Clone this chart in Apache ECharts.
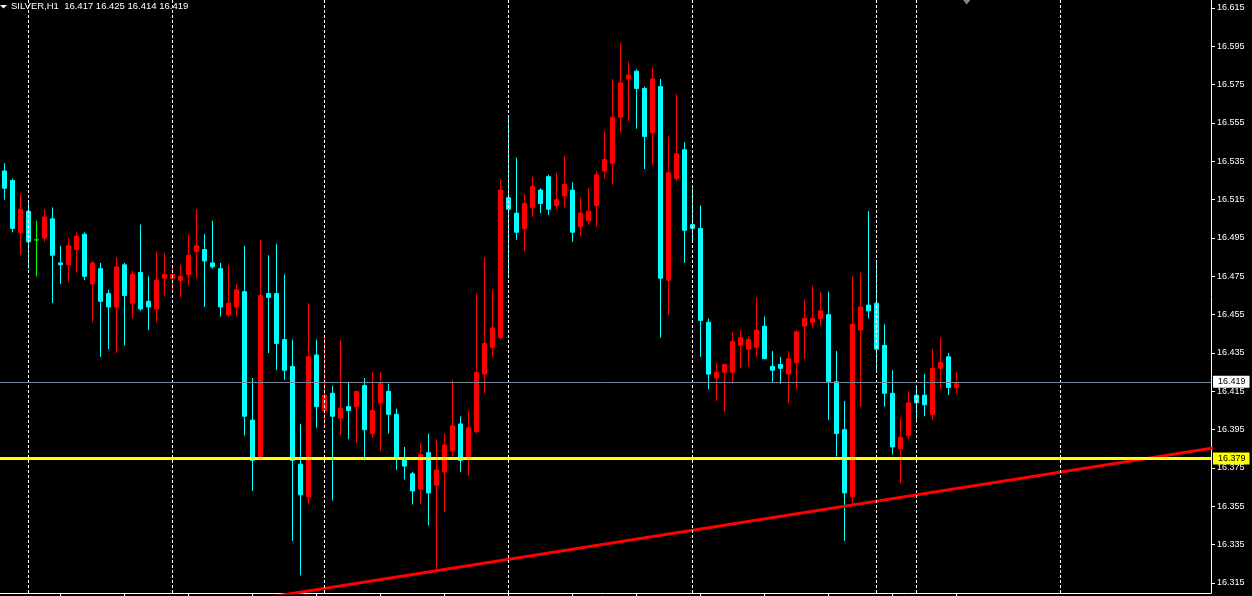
<!DOCTYPE html>
<html>
<head>
<meta charset="utf-8">
<script src="https://cdn.jsdelivr.net/npm/echarts@6/dist/echarts.min.js"></script>
<style>
html,body{margin:0;padding:0;background:#000;}
#chart{width:1252px;height:596px;}
</style>
</head>
<body>
<div id="chart"></div>
<script>
// ---- data ----
const symbol = 'SILVER';
const period = 'H1';
const opens  = [16.530,16.525,16.498,16.509,16.494,16.495,16.505,16.482,16.481,16.489,16.497,16.471,16.479,16.466,16.459,16.481,16.461,16.477,16.462,16.458,
                16.474,16.474,16.473,16.476,16.488,16.489,16.482,16.479,16.455,16.459,16.467,16.400,16.381,16.466,16.466,16.442,16.428,16.377,16.360,16.434,
                16.405,16.414,16.401,16.407,16.407,16.418,16.393,16.409,16.415,16.403,16.380,16.372,16.364,16.383,16.366,16.373,16.384,16.398,16.380,16.394,
                16.424,16.438,16.443,16.516,16.508,16.500,16.511,16.520,16.527,16.512,16.517,16.520,16.501,16.504,16.512,16.530,16.534,16.558,16.578,16.582,
                16.573,16.550,16.574,16.473,16.526,16.541,16.502,16.500,16.451,16.422,16.425,16.425,16.439,16.437,16.438,16.449,16.428,16.429,16.424,16.430,
                16.449,16.451,16.453,16.455,16.420,16.395,16.360,16.447,16.460,16.461,16.439,16.414,16.385,16.392,16.413,16.413,16.403,16.427,16.433,16.417];
const highs  = [16.534,16.526,16.518,16.514,16.504,16.510,16.511,16.491,16.495,16.498,16.498,16.483,16.482,16.468,16.485,16.482,16.478,16.502,16.475,16.488,
                16.487,16.480,16.481,16.497,16.510,16.497,16.504,16.482,16.481,16.471,16.491,16.422,16.494,16.486,16.492,16.476,16.442,16.398,16.461,16.442,
                16.443,16.418,16.442,16.420,16.415,16.422,16.425,16.425,16.419,16.406,16.386,16.373,16.388,16.393,16.390,16.393,16.421,16.402,16.405,16.466,
                16.485,16.468,16.526,16.558,16.537,16.518,16.527,16.521,16.528,16.529,16.538,16.524,16.516,16.521,16.530,16.551,16.578,16.597,16.587,16.583,
                16.574,16.584,16.578,16.548,16.570,16.545,16.521,16.512,16.453,16.430,16.429,16.446,16.447,16.444,16.464,16.454,16.436,16.433,16.436,16.447,
                16.463,16.470,16.467,16.467,16.436,16.410,16.475,16.477,16.509,16.482,16.450,16.426,16.401,16.415,16.417,16.424,16.437,16.443,16.435,16.425];
const lows   = [16.515,16.498,16.486,16.479,16.475,16.493,16.461,16.471,16.472,16.477,16.473,16.451,16.433,16.437,16.435,16.439,16.453,16.457,16.447,16.451,
                16.465,16.468,16.464,16.470,16.474,16.459,16.479,16.454,16.454,16.454,16.392,16.363,16.379,16.435,16.426,16.421,16.337,16.319,16.356,16.396,
                16.397,16.358,16.392,16.390,16.388,16.379,16.391,16.384,16.393,16.374,16.369,16.356,16.356,16.345,16.321,16.352,16.381,16.373,16.371,16.393,
                16.414,16.433,16.442,16.475,16.494,16.488,16.506,16.508,16.507,16.510,16.511,16.493,16.496,16.502,16.501,16.526,16.523,16.550,16.556,16.552,
                16.531,16.533,16.443,16.455,16.525,16.482,16.493,16.433,16.416,16.410,16.404,16.419,16.427,16.428,16.433,16.432,16.420,16.419,16.409,16.416,
                16.432,16.448,16.449,16.400,16.381,16.337,16.356,16.407,16.453,16.425,16.407,16.382,16.367,16.390,16.400,16.402,16.400,16.416,16.413,16.414];
const closes = [16.521,16.500,16.510,16.493,16.494,16.506,16.486,16.481,16.491,16.496,16.475,16.482,16.462,16.459,16.480,16.465,16.476,16.458,16.459,16.473,
                16.476,16.476,16.475,16.486,16.491,16.483,16.480,16.459,16.461,16.468,16.402,16.379,16.465,16.464,16.440,16.426,16.379,16.361,16.433,16.407,
                16.413,16.402,16.406,16.405,16.415,16.395,16.405,16.419,16.403,16.380,16.376,16.363,16.382,16.362,16.374,16.387,16.397,16.379,16.396,16.425,
                16.440,16.448,16.520,16.510,16.498,16.513,16.522,16.513,16.510,16.515,16.523,16.498,16.508,16.509,16.528,16.536,16.558,16.576,16.580,16.573,
                16.548,16.578,16.474,16.529,16.539,16.499,16.500,16.452,16.424,16.425,16.429,16.441,16.443,16.442,16.447,16.432,16.426,16.427,16.432,16.446,
                16.453,16.453,16.457,16.420,16.393,16.362,16.450,16.459,16.457,16.437,16.414,16.386,16.391,16.409,16.409,16.408,16.427,16.430,16.417,16.419];
const separators   = [3, 21, 40, 63, 86, 109, 114, 132];   // bar indexes of period separators
const supportLevel = 16.379;                                // yellow horizontal line
const trendAnchors = [[54, 16.3214], [106, 16.3557]];      // red trend line anchors (bar index, price)
const shiftMarker  = 120.3;                                 // chart shift marker (bar index)

// ---- build ----
const last = closes.length - 1;
const bid = closes[last];
const candles = opens.map((o, i) => [i, o, closes[i], lows[i], highs[i]]);

const X_MIN = -0.54, X_MAX = 150.83;
const Y_MIN = 16.30979, Y_MAX = 16.61917;
const slope = (trendAnchors[1][1] - trendAnchors[0][1]) / (trendAnchors[1][0] - trendAnchors[0][0]);
const trendAt = x => trendAnchors[0][1] + slope * (x - trendAnchors[0][0]);
const trendData = [[X_MIN - 1, trendAt(X_MIN - 1)], [X_MAX + 1, trendAt(X_MAX + 1)]];

const FONT = '"Liberation Sans", Arial, sans-serif';
const header = `${symbol},${period}  ${opens[last].toFixed(3)} ${highs[last].toFixed(3)} ${lows[last].toFixed(3)} ${closes[last].toFixed(3)}`;

const chart = echarts.init(document.getElementById('chart'), null, {renderer: 'canvas'});
chart.setOption({
  backgroundColor: '#000000',
  animation: false,
  grid: [
    {left: 0, right: 41, top: 0, bottom: 3},
    {left: 0, right: 41, top: 8, bottom: 13},
    {left: 60.33, width: 896, top: 0, bottom: 3}
  ],
  xAxis: [
    {gridIndex: 0, type: 'value', min: X_MIN, max: X_MAX,
     axisLine: {show: true, onZero: false, lineStyle: {color: '#ffffff', width: 1}},
     axisTick: {show: false}, axisLabel: {show: false}, splitLine: {show: false}},
    {gridIndex: 1, type: 'value', show: false, axisLine: {onZero: false}},
    {gridIndex: 2, type: 'value', min: 0, max: 112, interval: 8,
     axisLine: {show: false, onZero: false}, axisTick: {show: true, length: 4, lineStyle: {color: '#ffffff'}},
     axisLabel: {show: false}, splitLine: {show: false}}
  ],
  yAxis: [
    {gridIndex: 0, type: 'value', position: 'right', min: Y_MIN, max: Y_MAX, scale: true,
     axisLine: {show: true, onZero: false, lineStyle: {color: '#ffffff', width: 1}},
     axisTick: {show: false}, axisLabel: {show: false}, splitLine: {show: false}},
    {gridIndex: 1, type: 'value', position: 'right', min: 16.315, max: 16.615, interval: 0.02,
     axisLine: {show: false, onZero: false},
     axisTick: {show: true, inside: false, length: 4, lineStyle: {color: '#ffffff'}},
     axisLabel: {show: true, color: '#ffffff', fontFamily: FONT, fontSize: 9, margin: 6,
                 showMinLabel: true, showMaxLabel: true, formatter: v => v.toFixed(3)},
     splitLine: {show: false}},
    {gridIndex: 2, type: 'value', show: false, axisLine: {onZero: false}}
  ],
  graphic: [
    {type: 'polygon', silent: true, shape: {points: [[0, 5], [7, 5], [3.5, 8.5]]}, style: {fill: '#ffffff'}},
    {type: 'text', left: 11, top: 1, silent: true,
     style: {text: header, fill: '#ffffff', font: '9.5px ' + FONT}}
  ],
  series: [
    {
      type: 'line', xAxisIndex: 0, yAxisIndex: 0, data: [], z: 1, silent: true,
      markLine: {
        silent: true, symbol: ['none', 'none'], animation: false,
        label: {show: false},
        lineStyle: {color: '#ffffff', type: [3, 2], width: 1},
        data: separators.map(s => ({xAxis: s}))
      },
      markPoint: {
        silent: true, animation: false,
        data: [{coord: [shiftMarker, Y_MAX], symbol: 'triangle', symbolRotate: 180,
                symbolSize: [8, 5], symbolOffset: [0, 2], itemStyle: {color: '#778899'}, label: {show: false}}]
      }
    },
    {
      type: 'candlestick', xAxisIndex: 0, yAxisIndex: 0, layout: 'horizontal', z: 2,
      barWidth: 4,
      encode: {x: 0, y: [1, 2, 3, 4]},
      data: candles,
      itemStyle: {
        color: '#ff0000', color0: '#00ffff',
        borderColor: '#ff0000', borderColor0: '#00ffff',
        borderColorDoji: '#00ff00', borderWidth: 1
      },
      silent: true
    },
    {
      type: 'line', xAxisIndex: 0, yAxisIndex: 0, z: 4, silent: true,
      data: trendData, symbol: 'none', clip: true,
      lineStyle: {color: '#ff0000', width: 3},
      markLine: {
        silent: true, symbol: ['none', 'none'], animation: false,
        data: [
          {yAxis: bid, lineStyle: {color: '#778899', width: 1, type: 'solid'},
           label: {show: true, position: 'end', distance: 2, formatter: () => bid.toFixed(3),
                   color: '#000000', backgroundColor: '#ffffff', padding: [2, 4, 1, 5],
                   fontFamily: FONT, fontSize: 9}},
          {yAxis: supportLevel, lineStyle: {color: '#ffff00', width: 3, type: 'solid'},
           label: {show: true, position: 'end', distance: 2, formatter: () => supportLevel.toFixed(3),
                   color: '#000000', backgroundColor: '#ffff00', padding: [2, 4, 1, 5],
                   fontFamily: FONT, fontSize: 9}}
        ]
      }
    }
  ]
});
</script>
</body>
</html>
